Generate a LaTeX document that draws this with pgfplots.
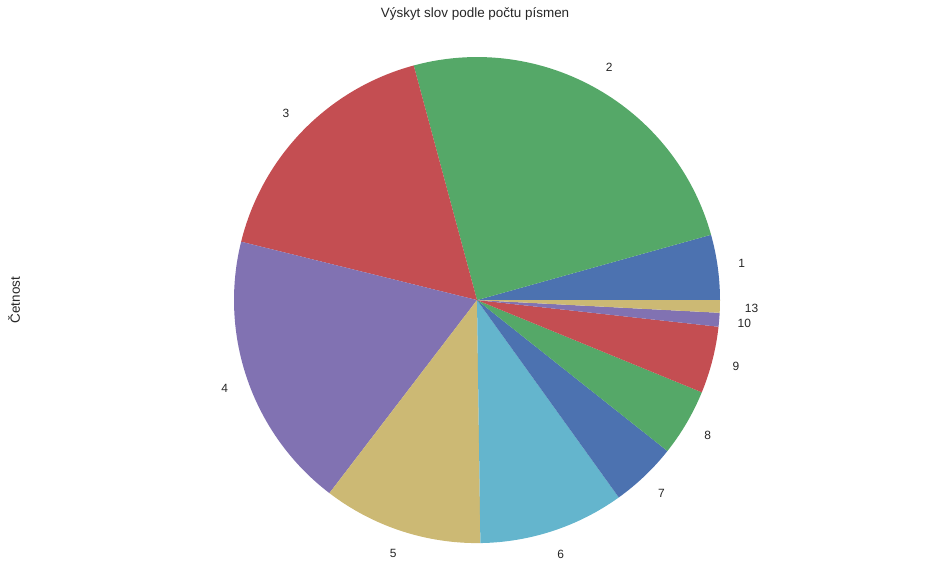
\documentclass[border=0pt]{standalone}
\usepackage{pgfplots}
\pgfplotsset{compat=1.18}
\usepackage{fontspec}
\setmainfont{Liberation Sans}
\definecolor{c1}{HTML}{4C72B0}
\definecolor{c2}{HTML}{55A868}
\definecolor{c3}{HTML}{C44E52}
\definecolor{c4}{HTML}{8172B2}
\definecolor{c5}{HTML}{CCB974}
\definecolor{c6}{HTML}{64B5CD}
\newcommand{\pieslice}[4]{%
  \fill[#3] (axis cs:0,0) -- (axis cs:{cos(#1)},{sin(#1)}) arc[start angle=#1,end angle=#2,radius=243bp] -- cycle;
  \node[font=\fontsize{12}{14}\selectfont,text=black!85] at (axis cs:{1.1*cos((#1+#2)/2)},{1.1*sin((#1+#2)/2)}) {#4};}
\begin{document}
\begin{tikzpicture}
\begin{axis}[x=243bp,y=243bp,xmin=-1.963,xmax=1.856,ymin=-1.136,ymax=1.235,
  hide axis,clip=false,scale only axis]
\path (axis cs:-1.963,-1.136) rectangle (axis cs:1.856,1.235);
\addplot[draw=none] coordinates {(0,0)};
\pieslice{0}{15.6}{c1}{1}
\pieslice{15.6}{105.1}{c2}{2}
\pieslice{105.1}{166.1}{c3}{3}
\pieslice{166.1}{232.6}{c4}{4}
\pieslice{232.6}{270.8}{c5}{5}
\pieslice{270.8}{305.7}{c6}{6}
\pieslice{305.7}{321.6}{c1}{7}
\pieslice{321.6}{337.7}{c2}{8}
\pieslice{337.7}{353.7}{c3}{9}
\fill[c4] (axis cs:0,0) -- (axis cs:{cos(353.7)},{sin(353.7)}) arc[start angle=353.7,end angle=357.0,radius=243bp] -- cycle;
\fill[c5] (axis cs:0,0) -- (axis cs:{cos(357.0)},{sin(357.0)}) arc[start angle=357.0,end angle=360,radius=243bp] -- cycle;
\node[font=\fontsize{12}{14}\selectfont,text=black!85] at (axis cs:1.1,-0.096) {10};
\node[font=\fontsize{12}{14}\selectfont,text=black!85] at (axis cs:1.13,-0.035) {13};
\node[font=\fontsize{13.5}{16}\selectfont,text=black!85] at (axis cs:-0.008,1.177) {Výskyt slov podle počtu písmen};
\node[font=\fontsize{13.5}{16}\selectfont,text=black!85,rotate=90] at (axis cs:-1.905,0) {Četnost};
\end{axis}
\end{tikzpicture}
\end{document}
